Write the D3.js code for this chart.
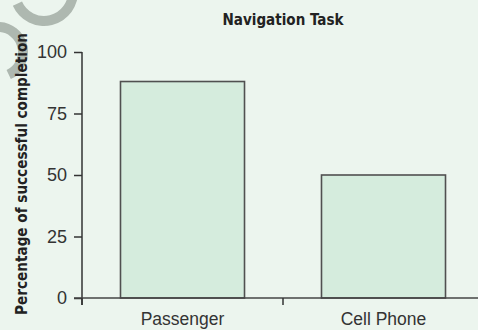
<!DOCTYPE html>
<html>
<head>
<meta charset="utf-8">
<script src="https://cdn.jsdelivr.net/npm/d3@7/dist/d3.min.js"></script>
<style>
  html, body { margin: 0; padding: 0; background: #ecf5ee; }
  svg { display: block; }
</style>
</head>
<body>
<svg id="chart" width="478" height="330"></svg>
<script>
const categories = ["Passenger", "Cell Phone"];
const values = [88, 50];
const yTicks = [0, 25, 50, 75, 100];
const title = "Navigation Task";
const yLabel = "Percentage of successful completion";

const W = 478, H = 330;
const svg = d3.select("#chart");
svg.append("rect").attr("width", W).attr("height", H).attr("fill", "#ecf5ee");

// faint watermark arcs (decorative)
const wm = svg.append("g").attr("fill", "#aeb8b0");
wm.append("path").attr("transform", "translate(44,-8)")
  .attr("d", d3.arc()({innerRadius: 24, outerRadius: 34, startAngle: 1.5, endAngle: 4.3}));
wm.append("path").attr("transform", "translate(-2,52)")
  .attr("d", d3.arc()({innerRadius: 20, outerRadius: 30, startAngle: 0, endAngle: 2.7}));

const y = d3.scaleLinear().domain([0, 100]).range([298, 52]);
const x = d3.scaleBand().domain(categories).range([82, 484]).padding(0);
const barFrac = 0.617;
const bw = x.bandwidth() * barFrac;
const off = (x.bandwidth() - bw) / 2;

// bars
svg.append("g").selectAll("rect").data(values).join("rect")
  .attr("x", (d, i) => x(categories[i]) + off)
  .attr("y", d => y(d))
  .attr("width", bw)
  .attr("height", d => y(0) - y(d))
  .attr("fill", "#d5ecdd")
  .attr("stroke", "#505050")
  .attr("stroke-width", 1.6);

// y axis
const yAxis = svg.append("g").attr("transform", "translate(82,0)")
  .call(d3.axisLeft(y).tickValues(yTicks).tickSize(8).tickPadding(7).tickFormat(d3.format("d")));
yAxis.select(".domain").remove();
yAxis.append("line").attr("x1", 0).attr("x2", 0).attr("y1", 52).attr("y2", 305)
  .attr("stroke", "#333").attr("stroke-width", 1.5);
yAxis.selectAll(".tick line").attr("stroke", "#333").attr("stroke-width", 1.5);
yAxis.selectAll(".tick text")
  .attr("font-family", "'Liberation Sans', Arial, sans-serif")
  .attr("font-size", 18).attr("fill", "#333");

// x axis
const xg = svg.append("g");
xg.append("line").attr("x1", 74).attr("x2", W).attr("y1", y(0)).attr("y2", y(0))
  .attr("stroke", "#444").attr("stroke-width", 1.5);
xg.selectAll("line.tk").data(categories).join("line").attr("class", "tk")
  .attr("x1", d => x(d)).attr("x2", d => x(d))
  .attr("y1", y(0)).attr("y2", y(0) + 7)
  .attr("stroke", "#333").attr("stroke-width", 1.5);
xg.selectAll("text").data(categories).join("text")
  .attr("x", d => x(d) + x.bandwidth() / 2)
  .attr("y", 325)
  .attr("text-anchor", "middle")
  .attr("font-family", "'Liberation Sans', Arial, sans-serif")
  .attr("font-size", 17.5).attr("fill", "#333")
  .text(d => d);

function fitWidth(sel, target) {
  const len = sel.node().getComputedTextLength();
  const fs = parseFloat(sel.attr("font-size"));
  if (len > 0) sel.attr("font-size", (fs * target / len).toFixed(2));
}

// title
const t = svg.append("text")
  .attr("x", 283).attr("y", 25)
  .attr("text-anchor", "middle")
  .attr("font-family", "'Liberation Sans Narrow', 'DejaVu Sans Condensed', Arial, sans-serif")
  .attr("font-weight", "bold").attr("font-size", 18).attr("fill", "#222")
  .text(title);
fitWidth(t, 121);

// y label
const yl = svg.append("text")
  .attr("transform", "translate(27,174) rotate(-90)")
  .attr("text-anchor", "middle")
  .attr("font-family", "'Liberation Sans Narrow', 'DejaVu Sans Condensed', Arial, sans-serif")
  .attr("font-weight", "bold").attr("font-size", 19).attr("fill", "#222")
  .text(yLabel);
fitWidth(yl, 282);
</script>
</body>
</html>
